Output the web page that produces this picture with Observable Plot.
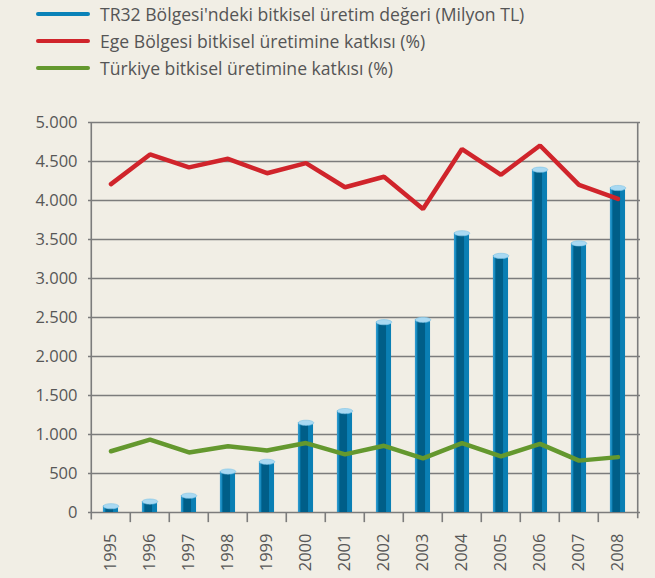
<!DOCTYPE html>
<html>
<head>
<meta charset="utf-8">
<script src="https://cdn.jsdelivr.net/npm/d3@7"></script>
<script src="https://cdn.jsdelivr.net/npm/@observablehq/plot@0.6"></script>
<style>
  html, body { margin: 0; padding: 0; background: #f1eee5; }
  body { width: 655px; height: 578px; overflow: hidden; font-family: "Open Sans", sans-serif; }
  #legend { height: 92px; position: relative; }
  .item { position: absolute; left: 36px; display: flex; align-items: center; font-size: 17.6px; color: #555; line-height: 22px; }
  .sw { width: 54px; height: 4px; border-radius: 2px; margin-right: 10px; }
</style>
</head>
<body>
<div id="legend"></div>
<div id="chart"></div>
<script>
const years = ["1995","1996","1997","1998","1999","2000","2001","2002","2003","2004","2005","2006","2007","2008"];
const production = [80, 140, 215, 525, 650, 1150, 1300, 2440, 2470, 3580, 3290, 4395, 3450, 4160];
const egeShare = [4210, 4590, 4425, 4535, 4350, 4480, 4170, 4305, 3890, 4660, 4330, 4705, 4200, 4020];
const turkeyShare = [785, 935, 770, 850, 795, 890, 745, 855, 695, 890, 720, 880, 665, 710];
const yTicks = [0, 500, 1000, 1500, 2000, 2500, 3000, 3500, 4000, 4500, 5000];
const seriesNames = [
  "TR32 Bölgesi'ndeki bitkisel üretim değeri (Milyon TL)",
  "Ege Bölgesi bitkisel üretimine katkısı (%)",
  "Türkiye bitkisel üretimine katkısı (%)"
];
const seriesColors = ["#0a82b8", "#d0242b", "#64982e"];

// legend
const legend = document.getElementById("legend");
seriesNames.forEach((name, i) => {
  const it = document.createElement("div");
  it.className = "item";
  it.style.top = (3 + i * 27) + "px";
  it.innerHTML = `<span class="sw" style="background:${seriesColors[i]}"></span><span>${name}</span>`;
  legend.appendChild(it);
});

const rows = years.map((y, i) => ({year: y, prod: production[i], ege: egeShare[i], tr: turkeyShare[i]}));
const trLocale = d3.formatLocale({decimal: ",", thousands: ".", grouping: [3], currency: ["", ""]});
const fmt = trLocale.format(",");

const W = 655, H = 486, mL = 88, mR = 15, mT = 30, mB = 66;
const bw = (W - mL - mR) / years.length;
const barW = 15.5;
const inset = (bw - barW) / 2;

const ellipse = {
  draw(context) {
    const rx = barW / 2, ry = 2.6, k = 0.5523;
    context.moveTo(-rx, 0);
    context.bezierCurveTo(-rx, -ry * k, -rx * k, -ry, 0, -ry);
    context.bezierCurveTo(rx * k, -ry, rx, -ry * k, rx, 0);
    context.bezierCurveTo(rx, ry * k, rx * k, ry, 0, ry);
    context.bezierCurveTo(-rx * k, ry, -rx, ry * k, -rx, 0);
    context.closePath();
  }
};

const gridColor = "#7c7c7c";
const plot = Plot.plot({
  width: W, height: H,
  marginLeft: mL, marginRight: mR, marginTop: mT, marginBottom: mB,
  style: {background: "transparent", fontFamily: "'Open Sans', sans-serif", fontSize: "16px", color: "#575757", overflow: "visible"},
  x: {type: "band", domain: years, padding: 0, axis: null},
  y: {domain: [0, 5000], axis: null},
  marks: [
    Plot.ruleY(yTicks, {stroke: gridColor, strokeWidth: 1.6}),
    Plot.ruleX([years[0]], {x: d => d, y1: -95, y2: 5000, dx: -bw / 2, stroke: gridColor, strokeWidth: 1.6}),
    Plot.ruleX([years[years.length - 1]], {x: d => d, y1: -80, y2: 5000, dx: bw / 2, stroke: gridColor, strokeWidth: 1.6}),
    Plot.ruleX(years.slice(1), {x: d => d, y1: 0, y2: -130, dx: -bw / 2, stroke: gridColor, strokeWidth: 1.6}),
    Plot.axisY({ticks: yTicks, tickSize: 0, tickPadding: 11, tickFormat: fmt, fontSize: 16.5}),
    Plot.text(years, {x: d => d, y: 0, text: d => d, rotate: -90, textAnchor: "end", dy: 21, fontSize: 16.5, fill: "#575757"}),
    // cylinder bars
    Plot.barY(rows, {x: "year", y: "prod", fill: "#0a7fb4", insetLeft: inset, insetRight: inset}),
    Plot.barY(rows, {x: "year", y: "prod", fill: "#2a97cc", insetLeft: inset, insetRight: bw - inset - 2}),
    Plot.barY(rows, {x: "year", y: "prod", fill: "#005e88", insetLeft: inset + 2.5, insetRight: inset + 5}),
    Plot.dot(rows, {x: "year", y: "prod", symbol: ellipse, r: 4, fill: "#a9d9f2", stroke: "#7cc2e6", strokeWidth: 0.6}),
    // lines
    Plot.line(rows, {x: "year", y: "ege", stroke: seriesColors[1], strokeWidth: 4.5, strokeLinejoin: "miter", strokeLinecap: "round"}),
    Plot.line(rows, {x: "year", y: "tr", stroke: seriesColors[2], strokeWidth: 4.5, strokeLinejoin: "miter", strokeLinecap: "round"})
  ]
});
document.getElementById("chart").appendChild(plot);
</script>
</body>
</html>
